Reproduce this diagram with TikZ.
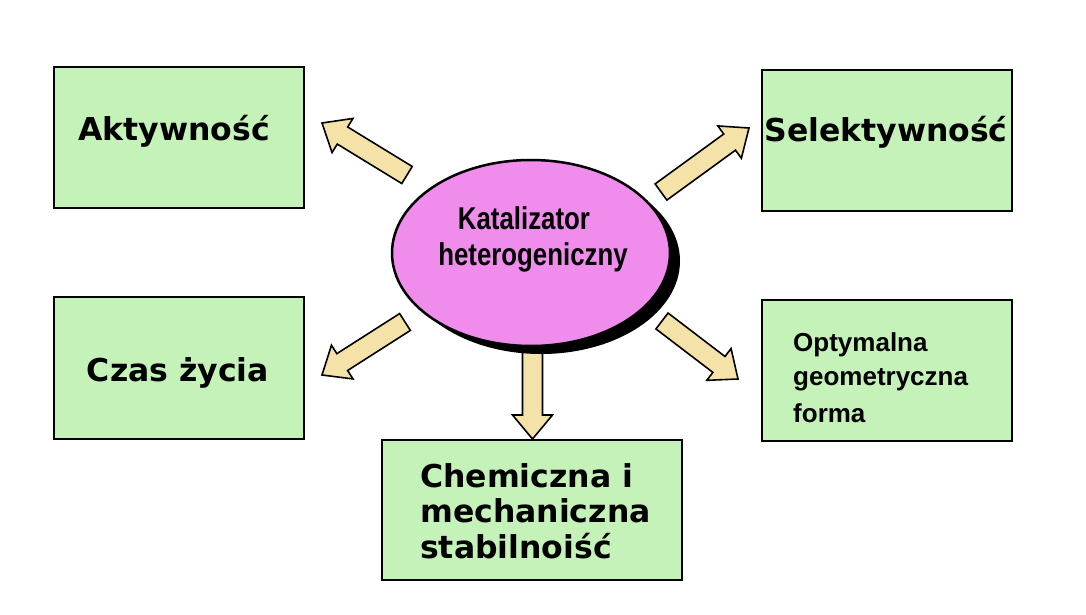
\documentclass[tikz,border=0pt]{standalone}
\usepackage{fontspec}
\usetikzlibrary{calc,shapes.geometric}
\newfontfamily\boxfont{DejaVu Sans}
\newfontfamily\ellfont{Liberation Sans}[FakeStretch=0.82]
\newfontfamily\optfont{Liberation Sans}
\definecolor{boxgreen}{RGB}{196,242,184}
\definecolor{ellpink}{RGB}{240,140,236}
\definecolor{arrtan}{RGB}{245,226,168}
\tikzset{
  box/.style={draw=black, line width=2pt, fill=boxgreen, inner sep=0pt},
  boxtext/.style={font=\boxfont\bfseries\fontsize{31.5}{36}\selectfont, anchor=base, inner sep=0pt},
  opttext/.style={font=\optfont\bfseries\fontsize{26}{30}\selectfont, anchor=base west, inner sep=0pt},
  elltext/.style={font=\ellfont\bfseries\fontsize{31.5}{36}\selectfont, anchor=base, inner sep=0pt},
  fatarrow/.style={draw=black, line width=1.6pt, fill=arrtan, line join=miter},
}
\newcommand\fatarrow[2]{%
  \coordinate (#2h) at ($(#2)!24pt!(#1)$);
  \draw[fatarrow] ($(#1)!10pt!90:(#2)$) -- ($(#2h)!10pt!90:(#2)$) -- ($(#2h)!20pt!90:(#2)$) -- (#2)
    -- ($(#2h)!20pt!-90:(#2)$) -- ($(#2h)!10pt!-90:(#2)$) -- ($(#1)!10pt!-90:(#2)$) -- cycle;}
\begin{document}
\begin{tikzpicture}[x=1pt,y=-1pt]
\useasboundingbox[fill=white] (0,0) rectangle (1086,615);
% boxes
\node[box, minimum width=250pt, minimum height=141pt] (akt) at (179,137.5) {};
\node[box, minimum width=250pt, minimum height=141pt] (sel) at (887,140.5) {};
\node[box, minimum width=250pt, minimum height=142pt] (czas) at (179,368) {};
\node[box, minimum width=250pt, minimum height=141pt] (opt) at (887,370.5) {};
\node[box, minimum width=300pt, minimum height=140pt] (chem) at (532,510) {};
% texts
\node[boxtext] (taktyw) at (174,140) {Aktywność};
\node[boxtext] (tsel) at (886,142) {Selektywność};
\node[boxtext] (tczas) at (178,381) {Czas życia};
\node[boxtext, anchor=base west] (tchem1) at (420,487) {Chemiczna i};
\node[boxtext, anchor=base west] (tchem2) at (420,522) {mechaniczna};
\node[boxtext, anchor=base west] (tchem3) at (420,558) {stabilnoiść};
\node[opttext] (topt1) at (793,351) {Optymalna};
\node[opttext] (topt2) at (793,385) {geometryczna};
\node[opttext] (topt3) at (793,422) {forma};
% arrow ends
\coordinate (ulT) at (407,175); \coordinate (ulP) at (322,123);
\coordinate (urT) at (661,192); \coordinate (urP) at (749,128);
\coordinate (llT) at (405,322); \coordinate (llP) at (322,375);
\coordinate (lrT) at (662,321); \coordinate (lrP) at (738,379);
\coordinate (bT) at (532.5,345); \coordinate (bP) at (532.5,439);
\fatarrow{ulT}{ulP}
\fatarrow{urT}{urP}
\fatarrow{llT}{llP}
\fatarrow{lrT}{lrP}
\fatarrow{bT}{bP}
% ellipse
\node[ellipse, fill=black, minimum width=278pt, minimum height=186pt, inner sep=0pt] (shadow) at (541,261) {};
\node[ellipse, draw=black, line width=2.5pt, fill=ellpink, minimum width=278pt, minimum height=186pt, inner sep=0pt] (kat) at (531,253) {};
\node[elltext] (tkat1) at (524,229) {Katalizator};
\node[elltext] (tkat2) at (533,265) {heterogeniczny};
\end{tikzpicture}
\end{document}
